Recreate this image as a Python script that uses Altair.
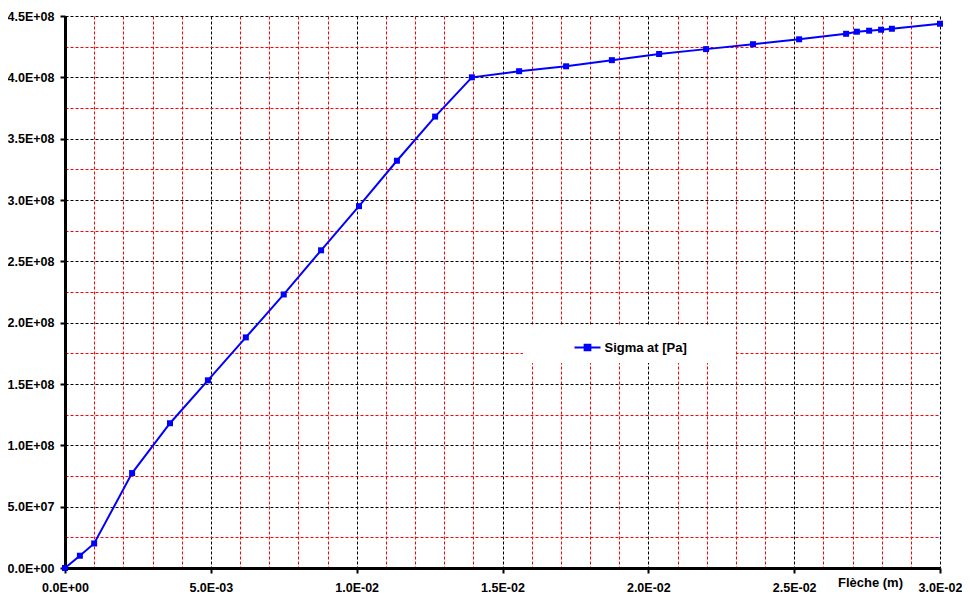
import altair as alt
import pandas as pd

# Data
deflection = [0, 5.1e-4, 1.0e-3, 2.3e-3, 3.6e-3, 4.9e-3, 6.2e-3, 7.5e-3, 8.78e-3,
              1.008e-2, 1.138e-2, 1.269e-2, 1.395e-2, 1.557e-2, 1.718e-2, 1.875e-2,
              2.037e-2, 2.198e-2, 2.359e-2, 2.517e-2, 2.678e-2, 2.715e-2, 2.757e-2,
              2.798e-2, 2.835e-2, 3.0e-2]
sigma = [0, 1.0e7, 2.0e7, 7.74e7, 1.18e8, 1.53e8, 1.88e8, 2.23e8, 2.59e8,
         2.95e8, 3.32e8, 3.68e8, 4.0e8, 4.05e8, 4.09e8, 4.14e8,
         4.19e8, 4.23e8, 4.27e8, 4.31e8, 4.355e8, 4.372e8, 4.38e8,
         4.388e8, 4.396e8, 4.437e8]
series_name = "Sigma at [Pa]"

x_major = [0, 0.005, 0.01, 0.015, 0.02, 0.025, 0.03]
y_major = [0, 5e7, 1e8, 1.5e8, 2e8, 2.5e8, 3e8, 3.5e8, 4e8, 4.5e8]
x_minor = [i * 1e-3 for i in range(31) if i % 5 != 0]
y_minor = [2.5e7 + k * 5e7 for k in range(9)]

df = pd.DataFrame({
    "i": list(range(len(deflection))),
    "deflection": deflection,
    "sigma": sigma,
    "series": [series_name] * len(deflection),
})

FONT = "Liberation Sans"
sci = "replace(replace(format(datum.value, '.1e'), 'e+', 'E+0'), 'e-', 'E-0')"
BLUE = "#0000FF"

xscale = alt.Scale(domain=[0, 0.03], nice=False, zero=True)
yscale = alt.Scale(domain=[0, 4.5e8], nice=False, zero=True)

minor = alt.Chart(df).mark_line(opacity=0).encode(
    x=alt.X("deflection:Q", scale=xscale,
            axis=alt.Axis(orient="bottom", values=x_minor, grid=True, gridColor="#FF0000",
                          gridDash=[3, 2], gridWidth=1, labels=False, ticks=False,
                          domain=False, title=None)),
    y=alt.Y("sigma:Q", scale=yscale,
            axis=alt.Axis(orient="left", values=y_minor, grid=True, gridColor="#FF0000",
                          gridDash=[3, 2], gridWidth=1, labels=False, ticks=False,
                          domain=False, title=None)),
)

# legend symbol: a line with a square marker; trailing moveTo widens the white legend box
legend_symbol = "M-1,0H1M-0.22,-0.22H0.22V0.22H-0.22ZM10.4,0"

main = alt.Chart(df).mark_line(
    strokeWidth=2,
    point=alt.OverlayMarkDef(shape="square", size=36, filled=True, opacity=1),
).encode(
    x=alt.X("deflection:Q", scale=xscale,
            axis=alt.Axis(orient="bottom", values=x_major, labelExpr=sci, grid=True,
                          gridColor="#000000", gridDash=[3, 2], gridWidth=1,
                          domainColor="#000000", domainWidth=3,
                          tickColor="#000000", tickWidth=2, tickSize=5,
                          labelPadding=8, labelFont=FONT, labelFontSize=12.5,
                          labelFontWeight="bold", labelColor="#000000",
                          title="Flèche (m)", titleFont=FONT, titleFontSize=13,
                          titleFontWeight="bold", titleColor="#000000",
                          titleX=805, titleY=18, titleAlign="center",
                          titleBaseline="alphabetic", labelFlush=False,
                          labelOverlap=False)),
    y=alt.Y("sigma:Q", scale=yscale,
            axis=alt.Axis(orient="left", values=y_major, labelExpr=sci, grid=True,
                          gridColor="#000000", gridDash=[3, 2], gridWidth=1,
                          domainColor="#000000", domainWidth=3,
                          tickColor="#000000", tickWidth=2, tickSize=5,
                          labelPadding=6, labelFont=FONT, labelFontSize=12.5,
                          labelFontWeight="bold", labelColor="#000000",
                          title=None, labelFlush=False, labelOverlap=False)),
    color=alt.Color("series:N", scale=alt.Scale(domain=[series_name], range=[BLUE]),
                    legend=alt.Legend(
                        orient="none", legendX=458, legendY=309, title="00000",
                        titleOrient="left", titleFont=FONT, titleFontSize=13,
                        titleFontWeight="normal", titleOpacity=0,
                        titlePadding=5, fillColor="#FFFFFF", padding=8.5,
                        symbolType=legend_symbol, symbolSize=676,
                        symbolStrokeWidth=2, symbolStrokeColor=BLUE, symbolFillColor=BLUE,
                        labelFont=FONT, labelFontSize=13, labelFontWeight="bold",
                        labelColor="#000000", labelOffset=3, labelLimit=400,
                    )),
    order=alt.Order("i:Q"),
)

chart = alt.layer(minor, main).resolve_axis(x="independent", y="independent").properties(
    width=875, height=552,
    autosize=alt.AutoSizeParams(type="none"),
    padding={"left": 57, "top": 8, "right": 22, "bottom": 28},
    background="#FFFFFF",
).configure_view(stroke=None)

chart.save("out.html", embed_options={"renderer": "svg", "actions": False})
